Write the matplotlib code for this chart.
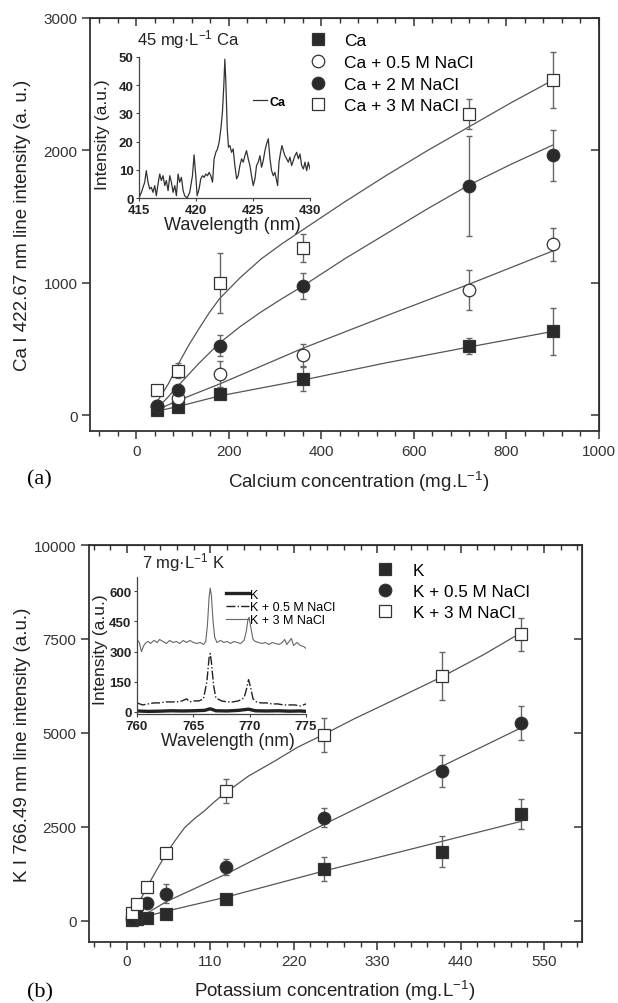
import numpy as np
import matplotlib
matplotlib.use('Agg')
import matplotlib.pyplot as plt
from matplotlib.ticker import MultipleLocator

plt.rcParams['font.family'] = ['Liberation Sans', 'DejaVu Sans']
plt.rcParams['mathtext.fontset'] = 'custom'
plt.rcParams['mathtext.rm'] = 'Liberation Sans'
plt.rcParams['mathtext.it'] = 'Liberation Sans:italic'
plt.rcParams['mathtext.bf'] = 'Liberation Sans:bold'

# ---------------- Panel (a) data: calcium ----------------
ca_conc = [45, 90, 180, 360, 720, 900]
ca_0 = [40, 60, 157, 270, 520, 632]
ca_0_err = [15, 20, 30, 90, 60, 175]
ca_05 = [70, 130, 312, 455, 945, 1292]
ca_05_err = [20, 30, 100, 85, 150, 125]
ca_2 = [70, 187, 525, 975, 1730, 1962]
ca_2_err = [20, 40, 80, 100, 380, 190]
ca_3 = [187, 337, 1000, 1262, 2275, 2530]
ca_3_err = [20, 60, 225, 105, 110, 212]

ca_fit_x0 = [45, 90, 180, 270, 360, 540, 720, 900]
ca_fit_0 = [30, 65, 145, 205, 265, 395, 515, 632]
ca_fit_x05 = [45, 90, 180, 270, 360, 540, 720, 900]
ca_fit_05 = [40, 110, 235, 370, 505, 750, 990, 1240]
ca_fit_x2 = [45, 67, 90, 135, 180, 225, 270, 315, 360, 450, 540, 630, 720,
             810, 900]
ca_fit_2 = [50, 130, 220, 390, 545, 670, 780, 880, 975, 1180, 1370, 1560,
            1740, 1895, 2040]
ca_fit_x3 = [45, 70, 90, 112, 135, 157, 180, 225, 270, 315, 360, 450, 540,
             630, 720, 810, 900]
ca_fit_3 = [100, 240, 380, 520, 650, 770, 880, 1040, 1180, 1295, 1400, 1610,
            1810, 2000, 2180, 2360, 2530]

ca_labels = ['Ca', 'Ca + 0.5 M NaCl', 'Ca + 2 M NaCl', 'Ca + 3 M NaCl']

# inset (a): Ca spectrum, 45 mg/L
ca_wl = [415.00, 415.21, 415.50, 415.64, 415.79, 415.94, 416.08, 416.23,
         416.38, 416.52, 416.67, 416.82, 416.96, 417.11, 417.26, 417.40,
         417.55, 417.70, 417.84, 417.99, 418.14, 418.28, 418.43, 418.57,
         418.72, 418.87, 419.01, 419.22, 419.45, 419.69, 419.83, 419.98,
         420.10, 420.27, 420.42, 420.57, 420.71, 420.86, 421.01, 421.15,
         421.30, 421.45, 421.59, 421.74, 421.89, 422.03, 422.18, 422.32,
         422.44, 422.53, 422.62, 422.74, 422.85, 422.97, 423.12, 423.26,
         423.41, 423.56, 423.70, 423.85, 424.00, 424.14, 424.29, 424.43,
         424.58, 424.73, 424.87, 425.02, 425.17, 425.31, 425.46, 425.61,
         425.75, 425.90, 426.05, 426.19, 426.34, 426.49, 426.63, 426.78,
         426.92, 427.07, 427.16, 427.28, 427.42, 427.54, 427.66, 427.80,
         427.95, 428.10, 428.24, 428.39, 428.54, 428.68, 428.83, 428.98,
         429.12, 429.27, 429.42, 429.56, 429.71, 429.85, 430.00]
ca_int = [0.0, 2.0, 5.6, 9.7, 5.6, 3.2, 3.8, 2.0,
          4.4, 0.8, 5.0, 8.5, 6.2, 7.9, 4.4, 6.2,
          2.6, 7.9, 5.6, 2.0, 4.4, 0.8, 8.5, 5.6,
          7.3, 2.6, 0.8, 0.0, 2.0, 7.9, 15.3, 7.9,
          0.8, 3.2, 6.8, 7.9, 7.3, 8.5, 7.9, 9.1,
          7.9, 5.6, 13.9, 16.2, 17.4, 19.8, 24.5, 30.5,
          39.9, 49.2, 41.0, 24.5, 18.0, 18.6, 16.2, 17.4,
          11.5, 6.8, 7.9, 11.5, 13.9, 12.7, 15.0, 16.8,
          13.9, 11.5, 7.9, 4.4, 6.8, 11.5, 12.7, 15.0,
          10.9, 13.3, 16.8, 19.2, 21.0, 13.9, 9.7, 7.9,
          9.1, 6.2, 4.4, 12.7, 16.2, 18.6, 16.8, 15.0,
          13.9, 12.7, 14.5, 11.5, 13.3, 15.0, 16.2, 13.9,
          15.6, 11.5, 10.3, 12.7, 9.7, 12.7, 10.3]

# ---------------- Panel (b) data: potassium ----------------
k_conc = [7, 13, 26, 52, 130, 260, 416, 520]
k_0 = [20, 50, 90, 195, 595, 1375, 1845, 2845]
k_0_err = [20, 30, 40, 60, 80, 320, 420, 400]
k_05 = [60, 150, 490, 730, 1440, 2750, 3990, 5260]
k_05_err = [30, 40, 80, 250, 220, 250, 430, 460]
k_3 = [200, 440, 905, 1820, 3460, 4950, 6520, 7630]
k_3_err = [40, 60, 80, 80, 320, 450, 630, 440]

k_fit_x0 = [7, 52, 130, 260, 416, 520]
k_fit_0 = [30, 260, 630, 1330, 2120, 2650]
k_fit_x05 = [7, 26, 52, 130, 260, 416, 520]
k_fit_05 = [40, 200, 515, 1240, 2570, 4120, 5140]
k_fit_x3 = [7, 13, 20, 26, 39, 52, 64, 76, 89, 102, 116, 130, 160, 195, 225,
            260, 300, 349, 380, 416, 470, 520]
k_fit_3 = [150, 400, 650, 880, 1350, 1800, 2150, 2480, 2720, 2925, 3180, 3410,
           3850, 4255, 4620, 4965, 5380, 5850, 6150, 6500, 7080, 7670]

k_labels = ['K', 'K + 0.5 M NaCl', 'K + 3 M NaCl']

# inset (b): K spectra, 7 mg/L
k3_wl = [760.0, 760.2, 760.4, 760.6, 760.8, 761.0, 761.2, 761.5, 761.8, 762.0,
         762.3, 762.6, 762.9, 763.2, 763.5, 763.8, 764.1, 764.4, 764.7, 765.0,
         765.3, 765.6, 765.9, 766.1, 766.25, 766.4, 766.5, 766.6, 766.75, 766.9,
         767.1, 767.4, 767.7, 768.0, 768.3, 768.6, 768.9, 769.2, 769.5, 769.7,
         769.85, 769.95, 770.1, 770.3, 770.5, 770.8, 771.1, 771.4, 771.7, 772.0,
         772.3, 772.6, 772.9, 773.1, 773.3, 773.5, 773.7, 773.9, 774.2, 774.5,
         774.8, 775.0]
k3_int = [360, 345, 300, 330, 345, 350, 340, 355, 345, 360,
          350, 340, 355, 345, 350, 340, 355, 345, 355, 345,
          340, 345, 335, 350, 430, 570, 615, 580, 450, 370,
          345, 355, 345, 350, 340, 350, 345, 340, 355, 400,
          460, 470, 420, 360, 350, 345, 340, 345, 335, 345,
          340, 335, 345, 360, 335, 350, 365, 330, 345, 330,
          325, 315]
k05_wl = [760.0, 760.5, 761.0, 761.5, 762.0, 762.5, 763.0, 763.5, 764.0, 764.4,
          764.7, 765.0, 765.5, 765.9, 766.2, 766.4, 766.5, 766.6, 766.8, 767.0,
          767.5, 768.0, 768.5, 769.0, 769.5, 769.75, 769.9, 770.05, 770.3, 770.6,
          771.0, 771.5, 772.0, 772.5, 773.0, 773.5, 774.0, 774.5, 775.0]
k05_int = [45, 35, 40, 45, 45, 50, 50, 50, 55, 65,
           50, 55, 55, 65, 150, 270, 290, 250, 130, 70,
           55, 50, 50, 55, 70, 120, 160, 130, 65, 50,
           45, 45, 40, 40, 35, 35, 35, 30, 40]
k0_wl = [760.0, 761.0, 762.0, 763.0, 764.0, 765.0, 766.0, 766.5, 767.0, 768.0,
         769.0, 769.9, 770.5, 771.5, 772.5, 773.5, 774.5, 775.0]
k0_int = [5, 3, 4, 6, 5, 6, 8, 16, 6, 5,
          8, 14, 6, 5, 6, 4, 5, 3]
k_inset_labels = ['K', 'K + 0.5 M NaCl', 'K + 3 M NaCl']

# ---------------- styling ----------------
DARK = '#2a2a2a'
LINE = '#555555'
ERR = '#666666'
W, H = 618, 1004


def fig_rect(x0, y0, x1, y1):
    return [x0 / W, 1 - y1 / H, (x1 - x0) / W, (y1 - y0) / H]


def style_main(ax, xmaj, xmin, ymaj):
    for s in ax.spines.values():
        s.set_linewidth(1.3)
        s.set_color('#333333')
    ax.xaxis.set_major_locator(MultipleLocator(xmaj))
    ax.xaxis.set_minor_locator(MultipleLocator(xmin))
    ax.yaxis.set_major_locator(MultipleLocator(ymaj))
    ax.tick_params(which='major', direction='out', length=6, width=1.1,
                   color='#333333', labelsize=11, labelcolor='#333333', pad=3)
    ax.tick_params(which='minor', direction='out', length=3.5, width=1.0,
                   color='#333333')
    sx = ax.secondary_xaxis('top')
    sx.xaxis.set_major_locator(MultipleLocator(xmaj))
    sx.xaxis.set_minor_locator(MultipleLocator(xmin))
    sx.tick_params(which='major', direction='in', length=6, width=1.1,
                   color='#333333', labeltop=False)
    sx.tick_params(which='minor', direction='in', length=3.5, width=1.0,
                   color='#333333')
    sy = ax.secondary_yaxis('right')
    sy.yaxis.set_major_locator(MultipleLocator(ymaj))
    sy.tick_params(which='major', direction='in', length=6, width=1.1,
                   color='#333333', labelright=False)


def style_inset(ax):
    ax.patch.set_alpha(0)
    for s in ['top', 'right']:
        ax.spines[s].set_visible(False)
    for s in ['left', 'bottom']:
        ax.spines[s].set_linewidth(0.9)
        ax.spines[s].set_color('#444444')
    ax.tick_params(direction='out', length=2.5, width=0.8, labelsize=9.5,
                   pad=1.5, color='#444444', labelcolor='#222222')
    for lab in ax.get_xticklabels() + ax.get_yticklabels():
        lab.set_fontweight('bold')


def series(ax, x, y, err, marker, filled, label):
    fc = DARK if filled else 'white'
    ax.errorbar(x, y, yerr=err, fmt='none', ecolor=ERR, elinewidth=1.0,
                capsize=2.5, capthick=1.0, zorder=3)
    ax.plot(x, y, linestyle='none', marker=marker, markersize=9,
            markerfacecolor=fc, markeredgecolor='#333333',
            markeredgewidth=0.9, zorder=4, label=label)


fig = plt.figure(figsize=(W / 100, H / 100), dpi=100)

# ---------------- Panel (a) ----------------
axa = fig.add_axes(fig_rect(90, 19, 599, 432))
axa.set_xlim(-100, 1000)
axa.set_ylim(-120, 3000)
axa.plot(ca_fit_x0, ca_fit_0, color=LINE, lw=0.9, zorder=2)
axa.plot(ca_fit_x05, ca_fit_05, color=LINE, lw=0.9, zorder=2)
axa.plot(ca_fit_x2, ca_fit_2, color=LINE, lw=0.9, zorder=2)
axa.plot(ca_fit_x3, ca_fit_3, color=LINE, lw=0.9, zorder=2)
series(axa, ca_conc, ca_0, ca_0_err, 's', True, ca_labels[0])
series(axa, ca_conc, ca_05, ca_05_err, 'o', False, ca_labels[1])
series(axa, ca_conc, ca_2, ca_2_err, 'o', True, ca_labels[2])
series(axa, ca_conc, ca_3, ca_3_err, 's', False, ca_labels[3])
style_main(axa, 200, 40, 1000)
axa.set_xlabel('Calcium concentration (mg.L$^{-1}$)', fontsize=13.5,
               color='#222222')
axa.xaxis.set_label_coords(0.527, -0.092)
axa.set_ylabel('Ca I 422.67 nm line intensity (a. u.)', fontsize=13.5,
               color='#222222')
axa.yaxis.set_label_coords(-0.116, 0.5)
axa.legend(loc='upper left', bbox_to_anchor=(309 / W, 1 - 34 / H),
           bbox_transform=fig.transFigure, frameon=False, fontsize=12.5,
           handlelength=1.0, handletextpad=1.0, labelspacing=0.38,
           borderpad=0, borderaxespad=0)

# inset (a)
ina = fig.add_axes(fig_rect(139, 58, 310, 199))
ina.plot(ca_wl, ca_int, color='#333333', lw=0.9)
ina.set_xlim(415, 430)
ina.set_ylim(0, 50)
ina.xaxis.set_major_locator(MultipleLocator(5))
ina.yaxis.set_major_locator(MultipleLocator(10))
style_inset(ina)
ina.set_xlabel('Wavelength (nm)', fontsize=13, color='#222222')
ina.xaxis.set_label_coords(0.545, -0.13)
ina.set_ylabel('Intensity (a.u.)', fontsize=12.5, color='#222222')
ina.yaxis.set_label_coords(-0.17, 0.454)
ina.text(-0.012, 1.05, '45 mg·L$^{-1}$ Ca', transform=ina.transAxes,
         fontsize=12, ha='left', va='bottom', color='#222222')
ina.legend(['Ca'], loc='upper left', bbox_to_anchor=(0.63, 0.77),
           frameon=False, handlelength=1.1, handletextpad=0.2,
           prop={'weight': 'bold', 'size': 9}, borderpad=0)

# ---------------- Panel (b) ----------------
axb = fig.add_axes(fig_rect(89, 546, 582, 943))
axb.set_xlim(-50, 600)
axb.set_ylim(-560, 10000)
axb.plot(k_fit_x0, k_fit_0, color=LINE, lw=0.9, zorder=2)
axb.plot(k_fit_x05, k_fit_05, color=LINE, lw=0.9, zorder=2)
axb.plot(k_fit_x3, k_fit_3, color=LINE, lw=0.9, zorder=2)
series(axb, k_conc, k_0, k_0_err, 's', True, k_labels[0])
series(axb, k_conc, k_05, k_05_err, 'o', True, k_labels[1])
series(axb, k_conc, k_3, k_3_err, 's', False, k_labels[2])
style_main(axb, 110, 22, 2500)
axb.set_xlabel('Potassium concentration (mg.L$^{-1}$)', fontsize=13.5,
               color='#222222')
axb.xaxis.set_label_coords(0.498, -0.09)
axb.set_ylabel('K I 766.49 nm line intensity (a.u.)', fontsize=13.5,
               color='#222222')
axb.yaxis.set_label_coords(-0.118, 0.5)
axb.legend(loc='upper left', bbox_to_anchor=(376.5 / W, 1 - 564 / H),
           bbox_transform=fig.transFigure, frameon=False, fontsize=12.3,
           handlelength=1.0, handletextpad=1.13, labelspacing=0.35,
           borderpad=0, borderaxespad=0)

# inset (b)
inb = fig.add_axes(fig_rect(137, 578, 306, 715))
inb.plot(k0_wl, k0_int, color='#222222', lw=2.4, label=k_inset_labels[0])
inb.plot(k05_wl, k05_int, color='#222222', lw=1.0, linestyle='-.',
         label=k_inset_labels[1])
inb.plot(k3_wl, k3_int, color='#666666', lw=0.8, label=k_inset_labels[2])
inb.set_xlim(760, 775)
inb.set_ylim(-10, 670)
inb.xaxis.set_major_locator(MultipleLocator(5))
inb.yaxis.set_major_locator(MultipleLocator(150))
style_inset(inb)
inb.set_xlabel('Wavelength (nm)', fontsize=12.7, color='#222222')
inb.xaxis.set_label_coords(0.54, -0.13)
inb.set_ylabel('Intensity (a.u.)', fontsize=12.5, color='#222222')
inb.yaxis.set_label_coords(-0.17, 0.48)
inb.text(0.03, 1.03, '7 mg·L$^{-1}$ K', transform=inb.transAxes,
         fontsize=12, ha='left', va='bottom', color='#222222')
inb.legend(loc='upper left', bbox_to_anchor=(0.49, 0.96), frameon=False,
           handlelength=1.8, handletextpad=0.1, labelspacing=0.05,
           fontsize=9, borderpad=0)

fig.text(27 / W, 1 - 480 / H, '(a)', family='Liberation Serif', fontsize=16,
         va='center', ha='left')
fig.text(27 / W, 1 - 993 / H, '(b)', family='Liberation Serif', fontsize=16,
         va='center', ha='left')

fig.savefig('out.png', dpi=100)
